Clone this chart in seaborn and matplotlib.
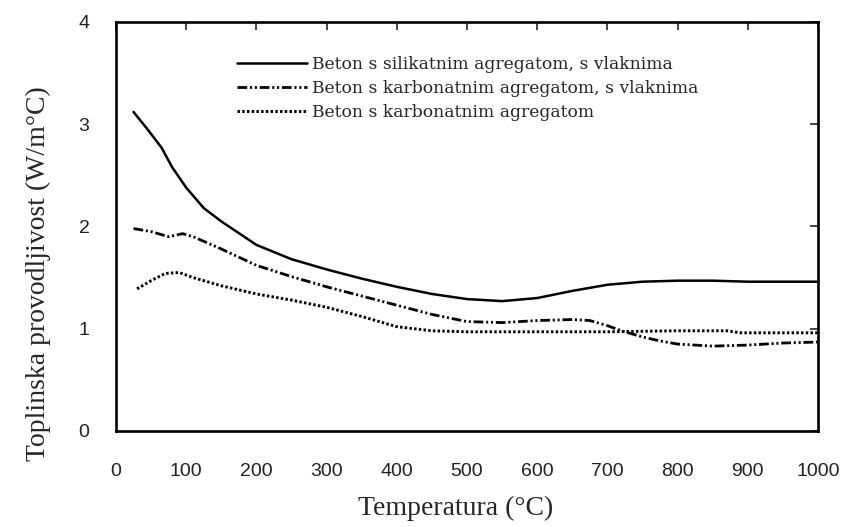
import matplotlib
matplotlib.use('Agg')
import matplotlib.pyplot as plt
import seaborn as sns
import pandas as pd

# Thermal conductivity curves
temp_sil = [25, 45, 65, 80, 100, 125, 150, 200, 250, 300, 350, 400, 450,
            500, 550, 600, 650, 700, 750, 800, 850, 900, 950, 1000]
k_sil = [3.12, 2.95, 2.77, 2.58, 2.38, 2.18, 2.05, 1.82, 1.68, 1.58, 1.49,
         1.41, 1.34, 1.29, 1.27, 1.30, 1.37, 1.43, 1.46, 1.47, 1.47, 1.46,
         1.46, 1.46]

temp_karb_vl = [25, 50, 75, 95, 110, 150, 200, 250, 300, 350, 400, 450, 500,
                550, 600, 650, 675, 700, 720, 750, 775, 800, 850, 900, 950, 1000]
k_karb_vl = [1.98, 1.95, 1.90, 1.93, 1.90, 1.78, 1.62, 1.51, 1.41, 1.32, 1.23,
             1.14, 1.07, 1.06, 1.08, 1.09, 1.08, 1.03, 0.98, 0.92, 0.88, 0.85,
             0.83, 0.84, 0.86, 0.87]

temp_karb = [30, 50, 70, 90, 110, 150, 200, 250, 300, 350, 400, 450, 500,
             600, 700, 800, 870, 890, 950, 1000]
k_karb = [1.39, 1.47, 1.54, 1.55, 1.50, 1.42, 1.34, 1.28, 1.21, 1.12, 1.02,
          0.98, 0.97, 0.97, 0.97, 0.98, 0.98, 0.96, 0.96, 0.96]

labels = ['Beton s silikatnim agregatom, s vlaknima',
          'Beton s karbonatnim agregatom, s vlaknima',
          'Beton s karbonatnim agregatom']
x_ticks = [0, 100, 200, 300, 400, 500, 600, 700, 800, 900, 1000]
y_ticks = [0, 1, 2, 3, 4]

sns.set_style('white')
plt.rcParams['lines.scale_dashes'] = False

fig = plt.figure(figsize=(8.49, 5.27), dpi=100)
ax = fig.add_axes([0.1366, 0.1822, 0.8269, 0.7761])

series = [
    (temp_sil, k_sil, labels[0], '-', 1.8),
    (temp_karb_vl, k_karb_vl, labels[1], (0, (7, 2, 1.5, 2, 1.5, 2)), 2.0),
    (temp_karb, k_karb, labels[2], (0, (1.8, 1.6)), 2.1),
]
for t, k, lab, ls, lw in series:
    df = pd.DataFrame({'T': t, 'k': k})
    sns.lineplot(data=df, x='T', y='k', ax=ax, color='black', linestyle=ls,
                 linewidth=lw, label=lab, sort=False, estimator=None)

ax.set_xlim(0, 1000)
ax.set_ylim(0, 4)
ax.set_xticks(x_ticks)
ax.set_yticks(y_ticks)
ax.tick_params(axis='both', direction='in', length=6, width=1.2,
               top=True, right=True, labelsize=14, labelcolor='#222222')
ax.tick_params(axis='x', pad=23)
ax.tick_params(axis='y', pad=19)
for lbl in ax.get_xticklabels() + ax.get_yticklabels():
    lbl.set_family('Liberation Sans')
for sp in ax.spines.values():
    sp.set_color('black')
    sp.set_linewidth(1.9)

ax.set_xlabel('Temperatura (°C)', family='Liberation Serif', fontsize=20)
ax.set_ylabel('Toplinska provodljivost (W/m°C)', family='Liberation Serif',
              fontsize=20)
ax.xaxis.set_label_coords(0.484, -0.158)
ax.yaxis.set_label_coords(-0.093, 0.385)

ax.legend(loc='upper left', bbox_to_anchor=(0.172, 0.918), frameon=False,
          borderaxespad=0, borderpad=0, handlelength=4.1, handletextpad=0.3,
          labelspacing=0.42, prop={'family': 'DejaVu Serif', 'size': 12.3})

fig.savefig('out.png', dpi=100)
